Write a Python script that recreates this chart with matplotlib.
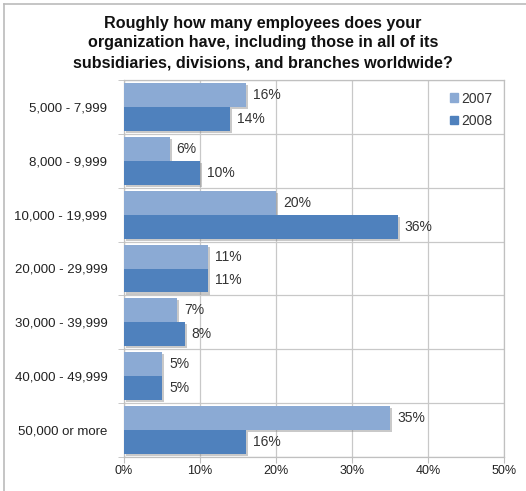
import numpy as np
import matplotlib
matplotlib.use("Agg")
import matplotlib.pyplot as plt
import matplotlib.patheffects as pe
from matplotlib.patches import Patch

plt.rcParams['font.family'] = ['Liberation Sans', 'DejaVu Sans']

categories = ["5,000 - 7,999", "8,000 - 9,999", "10,000 - 19,999", "20,000 - 29,999",
              "30,000 - 39,999", "40,000 - 49,999", "50,000 or more"]
vals_2007 = [16, 6, 20, 11, 7, 5, 35]
vals_2008 = [14, 10, 36, 11, 8, 5, 16]
series = ["2007", "2008"]
colors = ["#8BAAD4", "#4F81BD"]
title = ("Roughly how many employees does your\n"
         "organization have, including those in all of its\n"
         "subsidiaries, divisions, and branches worldwide?")

fig = plt.figure(figsize=(5.26, 4.91), dpi=100)
ax = fig.add_axes([124/526, 34/491, 380/526, 377/491])

y = np.arange(len(categories))
h = 0.445
shadow = [pe.SimplePatchShadow(offset=(1.5, -1.5), shadow_rgbFace='#888888', alpha=0.45), pe.Normal()]

b1 = ax.barh(y - h/2, vals_2007, height=h, color=colors[0], zorder=3)
b2 = ax.barh(y + h/2, vals_2008, height=h, color=colors[1], zorder=3)
for bars, vals in ((b1, vals_2007), (b2, vals_2008)):
    for r, v in zip(bars, vals):
        r.set_path_effects(shadow)
        ax.annotate(f"{v}%", (v, r.get_y() + r.get_height()/2), xytext=(5, 0),
                    textcoords='offset points', va='center', ha='left',
                    fontsize=10, color='#333333', zorder=4)

ax.set_xlim(0, 50)
ax.set_ylim(len(categories) - 0.5, -0.5)
ax.set_xticks(np.arange(0, 51, 10))
ax.set_xticklabels([f"{t}%" for t in range(0, 51, 10)], fontsize=9, color='#222222')
ax.set_yticks(y)
ax.set_yticklabels(categories, fontsize=9.5, color='#222222')
ax.set_yticks(np.arange(-0.5, len(categories)), minor=True)
ax.tick_params(axis='y', which='major', length=0, pad=12)
ax.tick_params(axis='y', which='minor', length=4, color='#BFBFBF')
ax.tick_params(axis='x', length=4, color='#BFBFBF', pad=2)
ax.grid(True, axis='x', color='#C8C8C8', lw=0.9, zorder=0)
ax.grid(True, axis='y', which='minor', color='#C8C8C8', lw=0.9, zorder=0)
for s in ax.spines.values():
    s.set_color('#C0C0C0')
    s.set_linewidth(0.9)

handles = [Patch(color=c, label=s) for c, s in zip(colors, series)]
leg = ax.legend(handles=handles, loc='upper right', bbox_to_anchor=(0.995, 0.995),
                frameon=False, fontsize=10, handlelength=0.6, handleheight=0.6,
                handletextpad=0.2, labelspacing=0.6, borderaxespad=0.3)
for t in leg.get_texts():
    t.set_color('#333333')

fig.text(0.5, 1 - 43/491, title, ha='center', va='center', fontsize=11.6,
         fontweight='bold', linespacing=1.4, color='#111111')

# outer frame (top and left visible in the reference)
fig.add_artist(plt.Line2D([4/526, 4/526], [0, 1 - 4/491], color='#BBBBBB', lw=1.2))
fig.add_artist(plt.Line2D([4/526, 1], [1 - 4/491, 1 - 4/491], color='#BBBBBB', lw=1.2))

fig.savefig("out.png", dpi=100)
